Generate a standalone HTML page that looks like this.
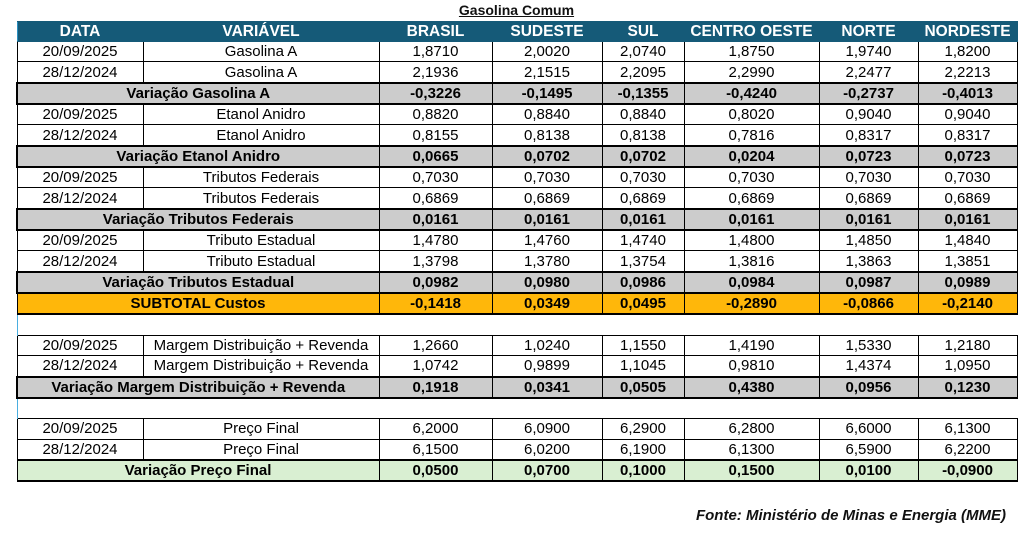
<!DOCTYPE html>
<html><head><meta charset="utf-8"><style>
body{margin:0;width:1033px;height:544px;background:#fff;font-family:"Liberation Sans",Arial,sans-serif;position:relative;overflow:hidden}
.title{position:absolute;left:0;width:1033px;top:2px;text-align:center;font-weight:bold;font-size:14px;text-decoration:underline;color:#111}
table{position:absolute;left:16px;top:21px;border-collapse:collapse;table-layout:fixed;width:1000px}
td,th{height:19.35px;padding:0;text-align:center;font-size:15px;border:1px solid #000;white-space:nowrap;overflow:hidden;line-height:19px;vertical-align:middle}
th{background:#155a78;color:#fff;font-size:15.5px;border:1px solid #155a78;border-left:1px solid #2a8fc0;height:18.5px}
tr.v td{background:#cccccc;font-weight:bold;border-top:2px solid #000;border-bottom:2px solid #000}
tr.v td:first-child{border-left:2px solid #000}
tr.s td{background:#ffb70a;font-weight:bold;border:2px solid #000;border-width:2px 1px}
tr.g td{background:#d9efd2;font-weight:bold;border-top:2px solid #000;border-bottom:2px solid #000}
tr.b td{border:none;border-left:1px solid #4aaee0}
.foot{position:absolute;right:27px;top:507px;font-weight:bold;font-style:italic;font-size:15px;color:#111}
</style></head><body>
<div class="title">Gasolina Comum</div>
<table>
<colgroup><col style="width:126px"><col style="width:236px"><col style="width:113px"><col style="width:110px"><col style="width:82px"><col style="width:135px"><col style="width:99px"><col style="width:99px"></colgroup>
<tr><th>DATA</th><th>VARIÁVEL</th><th>BRASIL</th><th>SUDESTE</th><th>SUL</th><th>CENTRO OESTE</th><th>NORTE</th><th>NORDESTE</th></tr>
<tr><td>20/09/2025</td><td>Gasolina A</td><td>1,8710</td><td>2,0020</td><td>2,0740</td><td>1,8750</td><td>1,9740</td><td>1,8200</td></tr>
<tr><td>28/12/2024</td><td>Gasolina A</td><td>2,1936</td><td>2,1515</td><td>2,2095</td><td>2,2990</td><td>2,2477</td><td>2,2213</td></tr>
<tr class="v"><td colspan="2">Variação Gasolina A</td><td>-0,3226</td><td>-0,1495</td><td>-0,1355</td><td>-0,4240</td><td>-0,2737</td><td>-0,4013</td></tr>
<tr><td>20/09/2025</td><td>Etanol Anidro</td><td>0,8820</td><td>0,8840</td><td>0,8840</td><td>0,8020</td><td>0,9040</td><td>0,9040</td></tr>
<tr><td>28/12/2024</td><td>Etanol Anidro</td><td>0,8155</td><td>0,8138</td><td>0,8138</td><td>0,7816</td><td>0,8317</td><td>0,8317</td></tr>
<tr class="v"><td colspan="2">Variação Etanol Anidro</td><td>0,0665</td><td>0,0702</td><td>0,0702</td><td>0,0204</td><td>0,0723</td><td>0,0723</td></tr>
<tr><td>20/09/2025</td><td>Tributos Federais</td><td>0,7030</td><td>0,7030</td><td>0,7030</td><td>0,7030</td><td>0,7030</td><td>0,7030</td></tr>
<tr><td>28/12/2024</td><td>Tributos Federais</td><td>0,6869</td><td>0,6869</td><td>0,6869</td><td>0,6869</td><td>0,6869</td><td>0,6869</td></tr>
<tr class="v"><td colspan="2">Variação Tributos Federais</td><td>0,0161</td><td>0,0161</td><td>0,0161</td><td>0,0161</td><td>0,0161</td><td>0,0161</td></tr>
<tr><td>20/09/2025</td><td>Tributo Estadual</td><td>1,4780</td><td>1,4760</td><td>1,4740</td><td>1,4800</td><td>1,4850</td><td>1,4840</td></tr>
<tr><td>28/12/2024</td><td>Tributo Estadual</td><td>1,3798</td><td>1,3780</td><td>1,3754</td><td>1,3816</td><td>1,3863</td><td>1,3851</td></tr>
<tr class="v"><td colspan="2">Variação Tributos Estadual</td><td>0,0982</td><td>0,0980</td><td>0,0986</td><td>0,0984</td><td>0,0987</td><td>0,0989</td></tr>
<tr class="s"><td colspan="2">SUBTOTAL Custos</td><td>-0,1418</td><td>0,0349</td><td>0,0495</td><td>-0,2890</td><td>-0,0866</td><td>-0,2140</td></tr>
<tr class="b"><td colspan="8"></td></tr>
<tr><td>20/09/2025</td><td>Margem Distribuição + Revenda</td><td>1,2660</td><td>1,0240</td><td>1,1550</td><td>1,4190</td><td>1,5330</td><td>1,2180</td></tr>
<tr><td>28/12/2024</td><td>Margem Distribuição + Revenda</td><td>1,0742</td><td>0,9899</td><td>1,1045</td><td>0,9810</td><td>1,4374</td><td>1,0950</td></tr>
<tr class="v"><td colspan="2">Variação Margem Distribuição + Revenda</td><td>0,1918</td><td>0,0341</td><td>0,0505</td><td>0,4380</td><td>0,0956</td><td>0,1230</td></tr>
<tr class="b"><td colspan="8"></td></tr>
<tr><td>20/09/2025</td><td>Preço Final</td><td>6,2000</td><td>6,0900</td><td>6,2900</td><td>6,2800</td><td>6,6000</td><td>6,1300</td></tr>
<tr><td>28/12/2024</td><td>Preço Final</td><td>6,1500</td><td>6,0200</td><td>6,1900</td><td>6,1300</td><td>6,5900</td><td>6,2200</td></tr>
<tr class="g"><td colspan="2">Variação Preço Final</td><td>0,0500</td><td>0,0700</td><td>0,1000</td><td>0,1500</td><td>0,0100</td><td>-0,0900</td></tr>
</table>
<div class="foot">Fonte: Ministério de Minas e Energia (MME)</div>
</body></html>
